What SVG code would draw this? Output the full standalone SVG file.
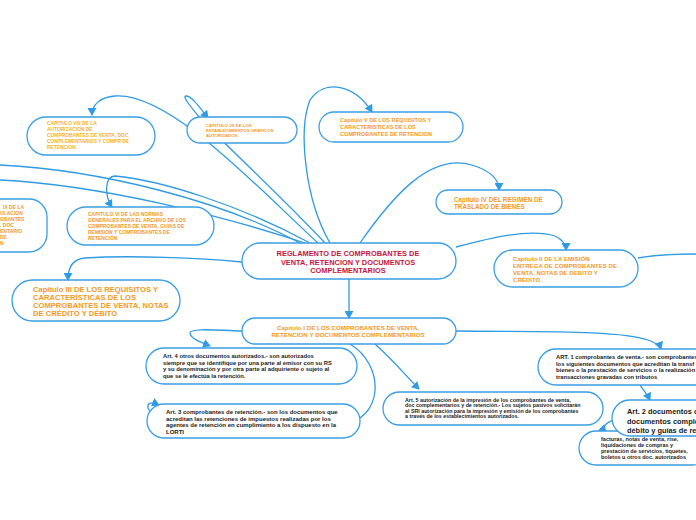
<svg xmlns="http://www.w3.org/2000/svg" width="696" height="520" viewBox="0 0 696 520">
<style>
.n{fill:#fff;stroke:#3a9ee4;stroke-width:1.3}
.c{fill:none;stroke:#2f9be2;stroke-width:1.3}
text{font-family:"Liberation Sans",Arial,sans-serif;font-weight:bold}
.o{fill:#f39a1e}
.y{fill:#f7b125}
.r{fill:#c8143c}
.k{fill:#1a1a1a}
</style>
<defs>
<marker id="a" markerUnits="userSpaceOnUse" markerWidth="9" markerHeight="9" refX="7" refY="4.5" orient="auto">
<path d="M0,0 L8,4.5 L0,9 Z" fill="#2f9be2"/>
</marker>
</defs>
<rect width="696" height="520" fill="#fff"/>
<g id="connectors">
<path class="c" marker-end="url(#a)" d="M318 243 C260 190 170 92 115 96 C100 97 92 105 92 115"/>
<path class="c" marker-end="url(#a)" d="M325 243 C285 200 220 140 200 118 C190 106 182 96 186 96 C192 96 200 108 208 118"/>
<path class="c" marker-end="url(#a)" d="M330 243 C305 200 298 130 310 100 C325 78 355 85 372 112"/>
<path class="c" marker-end="url(#a)" d="M360 243 C390 200 430 150 475 166 C492 172 499 180 499 190"/>
<path class="c" marker-end="url(#a)" d="M456 247 C490 238 530 228 555 236 C563 240 566 244 566 250"/>
<path class="c" marker-end="url(#a)" d="M242 262 C200 258 130 255 85 258 C72 259 68 268 68 280"/>
<path class="c" marker-end="url(#a)" d="M310 243 C240 205 160 180 115 176 C105 176 104 195 112 207"/>
<path class="c" d="M300 243 C220 200 100 170 0 165"/>
<path class="c" d="M305 243 C220 215 100 185 0 180"/>
<path class="c" d="M638 258 C660 254 680 254 696 254"/>
<path class="c" marker-end="url(#a)" d="M349 279 L349 318"/>
<path class="c" marker-end="url(#a)" d="M243 331 C215 330 190 328 190 333 C190 338 200 342 210 346"/>
<path class="c" marker-end="url(#a)" d="M350 344 C385 365 385 420 340 425 C250 432 150 420 148 408 C147 402 152 402 159 405"/>
<path class="c" marker-end="url(#a)" d="M375 344 C395 362 405 375 419 389"/>
<path class="c" marker-end="url(#a)" d="M456 331 C540 332 620 330 648 340 C656 343 660 346 661 349"/>
<path class="c" marker-end="url(#a)" d="M640 385 C645 392 648 396 650 400"/>
<path class="c" marker-end="url(#a)" d="M615 420 C605 422 602 428 606 432"/>
</g>
<g id="cap8">
<rect class="n" x="27" y="117" width="128" height="38" rx="19"/>
<text class="y" font-size="4.9"><tspan x="47" y="125">CAPITULO VIII DE LA</tspan><tspan x="47" y="131">AUTORIZACION DE</tspan><tspan x="47" y="137">COMPROBANTES DE VENTA, DOC</tspan><tspan x="47" y="143">COMPLEMENTARIOS Y COMPR DE</tspan><tspan x="47" y="149">RETENCION</tspan></text>
</g>
<g id="cap7">
<rect class="n" x="187" y="117" width="110" height="26" rx="13"/>
<text class="o" font-size="4.3"><tspan x="206" y="127">CAPITULO VII DE LOS</tspan><tspan x="206" y="132">ESTABLECIMIENTOS GRÁFICOS</tspan><tspan x="206" y="137">AUTORIZADOS</tspan></text>
</g>
<g id="cap5">
<rect class="n" x="319" y="112" width="144" height="30" rx="15"/>
<text class="o" font-size="5.6"><tspan x="340" y="122">Capitulo V DE LOS REQUISITOS Y</tspan><tspan x="340" y="129">CARACTERISTICAS DE LOS</tspan><tspan x="340" y="136">COMPROBANTES DE RETENCION</tspan></text>
</g>
<g id="cap9">
<rect class="n" x="-60" y="199" width="107" height="53" rx="18"/>
<text class="o" font-size="5"><tspan x="3" y="209">IX DE LA</tspan><tspan x="0" y="215">ULACION</tspan><tspan x="0" y="221">OBANTES</tspan><tspan x="0" y="227">. DOC</tspan><tspan x="0" y="233">ENTARIO</tspan><tspan x="0" y="239">DE</tspan><tspan x="0" y="245">N</tspan></text>
</g>
<g id="cap6">
<rect class="n" x="67" y="207" width="147" height="38" rx="19"/>
<text class="o" font-size="5"><tspan x="88" y="216">CAPITULO VI DE LAS NORMAS</tspan><tspan x="88" y="222">GENERALES PARA EL ARCHIVO DE LOS</tspan><tspan x="88" y="228">COMPROBANTES DE VENTA, GUIAS DE</tspan><tspan x="88" y="234">REMISION Y COMPROBANTES DE</tspan><tspan x="88" y="240">RETENCIÓN</tspan></text>
</g>
<g id="main">
<rect class="n" x="242" y="243" width="214" height="36" rx="18"/>
<text class="r" font-size="7.4" text-anchor="middle"><tspan x="348" y="256">REGLAMENTO DE COMPROBANTES DE</tspan><tspan x="348" y="264.5">VENTA, RETENCION Y DOCUMENTOS</tspan><tspan x="348" y="273">COMPLEMENTARIOS</tspan></text>
</g>
<g id="cap4">
<rect class="n" x="436" y="190" width="126" height="24" rx="12"/>
<text class="o" font-size="6.3"><tspan x="454" y="202">Capitulo IV DEL REGIMEN DE</tspan><tspan x="454" y="209">TRASLADO DE BIENES</tspan></text>
</g>
<g id="cap2">
<rect class="n" x="494" y="250" width="144" height="37" rx="18.5"/>
<text class="o" font-size="6.1"><tspan x="513" y="261">Capitulo II DE LA EMISIÓN</tspan><tspan x="513" y="268">ENTREGA DE COMPROBANTES DE</tspan><tspan x="513" y="275">VENTA, NOTAS DE DEBITO Y</tspan><tspan x="513" y="282">CRÉDITO</tspan></text>
</g>
<g id="cap3">
<rect class="n" x="12" y="280" width="168" height="41" rx="20.5"/>
<text class="o" font-size="7.6"><tspan x="33" y="292">Capitulo III DE LOS REQUISITOS Y</tspan><tspan x="33" y="300">CARACTERÍSTICAS DE LOS</tspan><tspan x="33" y="308">COMPROBANTES DE VENTA, NOTAS</tspan><tspan x="33" y="316">DE CRÉDITO Y DÉBITO</tspan></text>
</g>
<g id="cap1">
<rect class="n" x="242" y="318" width="214" height="26" rx="13"/>
<text class="o" font-size="6.2" text-anchor="middle"><tspan x="348" y="330">Capitulo I DE LOS COMPROBANTES DE VENTA,</tspan><tspan x="348" y="337">RETENCION Y DOCUMENTOS COMPLEMENTARIOS</tspan></text>
</g>
<g id="art4">
<rect class="n" x="146" y="348" width="211" height="36" rx="18"/>
<text class="k" font-size="5.8"><tspan x="163" y="358">Art. 4 otros documentos autorizados.- son autorizados</tspan><tspan x="163" y="364.7">siempre que se identifique por una parte al emisor con su RS</tspan><tspan x="163" y="371.4">y su denominación y por otra parte al adquiriente o sujeto al</tspan><tspan x="163" y="378.1">que se le efectúa la retención.</tspan></text>
</g>
<g id="art3">
<rect class="n" x="147" y="404" width="213" height="34" rx="17"/>
<text class="k" font-size="6"><tspan x="166" y="414">Art. 3 comprobantes de retención.- son los documentos que</tspan><tspan x="166" y="420.5">acreditan las retenciones de impuestos realizadas por los</tspan><tspan x="166" y="427">agentes de retención en cumplimiento a los dispuesto en la</tspan><tspan x="166" y="433.5">LORTI</tspan></text>
</g>
<g id="art5">
<rect class="n" x="383" y="392" width="220" height="33" rx="16.5"/>
<text class="k" font-size="5.3"><tspan x="405" y="402">Art. 5 autorización de la impresión de los comprobantes de venta,</tspan><tspan x="405" y="407.4">doc complementarios y de retención.- Los sujetos pasivos solicitarán</tspan><tspan x="405" y="412.8">al SRI autorización para la impresión y emisión de los comprobantes</tspan><tspan x="405" y="418.2">a través de los establecimientos autorizados.</tspan></text>
</g>
<g id="art1">
<rect class="n" x="538" y="349" width="180" height="36" rx="18"/>
<text class="k" font-size="5.8"><tspan x="556" y="359">ART. 1 comprobantes de venta.- son comprobantes</tspan><tspan x="556" y="365.5">los siguientes documentos que acreditan la transf</tspan><tspan x="556" y="372">bienes o la prestación de servicios o la realización</tspan><tspan x="556" y="378.5">transacciones gravadas con tributos</tspan></text>
</g>
<g id="facturas">
<rect class="n" x="579" y="431" width="130" height="34" rx="17"/>
<text class="k" font-size="5.5"><tspan x="601" y="441">facturas, notas de venta, rise,</tspan><tspan x="601" y="447">liquidaciones de compras y</tspan><tspan x="601" y="453">prestación de servicios, tiquetes,</tspan><tspan x="601" y="459">boletos u otros doc. autorizados</tspan></text>
</g>
<g id="art2">
<rect class="n" x="612" y="400" width="110" height="36" rx="18"/>
<text class="k" font-size="7.4"><tspan x="627" y="414">Art. 2 documentos c</tspan><tspan x="627" y="423.5">documentos comple</tspan><tspan x="627" y="433">débito y guías de re</tspan></text>
</g>
</svg>
